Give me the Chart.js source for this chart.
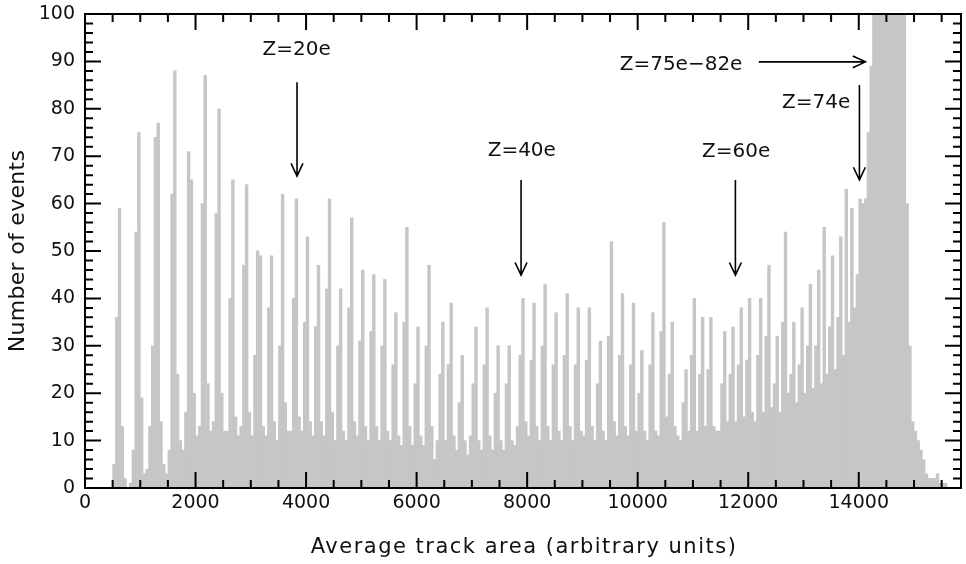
<!DOCTYPE html>
<html>
<head>
<meta charset="utf-8">
<script src="https://cdn.jsdelivr.net/npm/chart.js@4.4.1/dist/chart.umd.min.js"></script>
<style>
  html, body { margin: 0; padding: 0; background: #fff; }
</style>
</head>
<body>
<canvas id="histChart" width="966" height="564"></canvas>
<script>
// histogram: bins of 50 units starting at 0
const binWidth = 50;
const counts = [
  0, 0, 0, 0, 0, 0, 0, 0, 0, 0, 5, 36, 59, 13, 2, 0, 1, 8, 54, 75,
  19, 3, 4, 13, 30, 74, 77, 14, 5, 3, 8, 62, 88, 24, 10, 8, 16, 71, 65, 20,
  11, 13, 60, 87, 22, 12, 14, 58, 80, 20, 12, 12, 40, 65, 15, 11, 13, 47, 64, 16,
  11, 28, 50, 49, 13, 11, 38, 49, 14, 10, 30, 62, 18, 12, 12, 40, 61, 15, 12, 35,
  53, 14, 11, 34, 47, 14, 11, 42, 61, 16, 10, 30, 42, 12, 10, 38, 57, 14, 11, 31,
  46, 13, 10, 33, 45, 13, 10, 30, 44, 12, 10, 26, 37, 11, 9, 35, 55, 13, 9, 22,
  34, 11, 9, 30, 47, 13, 6, 10, 24, 35, 10, 26, 39, 11, 8, 18, 28, 10, 7, 11,
  22, 34, 10, 8, 26, 38, 11, 8, 20, 30, 10, 8, 22, 30, 10, 9, 13, 28, 40, 14,
  11, 27, 39, 13, 10, 30, 43, 13, 10, 26, 37, 12, 10, 28, 41, 13, 10, 26, 38, 12,
  11, 27, 38, 13, 10, 22, 31, 12, 10, 32, 52, 14, 11, 28, 41, 13, 11, 26, 39, 12,
  20, 29, 12, 10, 26, 37, 12, 11, 33, 56, 15, 24, 35, 13, 11, 10, 18, 25, 12, 28,
  40, 12, 24, 36, 13, 25, 36, 13, 12, 12, 22, 33, 14, 24, 34, 14, 26, 38, 15, 27,
  40, 16, 14, 28, 40, 16, 32, 47, 17, 22, 32, 16, 35, 54, 20, 24, 35, 18, 26, 38,
  20, 30, 43, 21, 30, 46, 22, 55, 24, 34, 49, 25, 36, 53, 28, 63, 35, 59, 38, 45,
  61, 60, 61, 75, 89, 110, 130, 150, 170, 185, 195, 190, 178, 160, 140, 118, 104, 60, 30, 14,
  12, 10, 8, 6, 3, 2, 2, 2, 3, 1, 1, 1, 0, 0, 0, 0, 0
];
const xTickLabels = [0, 2000, 4000, 6000, 8000, 10000, 12000, 14000];
const xMinorTicks = [500, 1000, 1500, 2500, 3000, 3500, 4500, 5000, 5500, 6500, 7000, 7500,
  8500, 9000, 9500, 10500, 11000, 11500, 12500, 13000, 13500, 14500, 15000, 15500];
const yTickLabels = [0, 10, 20, 30, 40, 50, 60, 70, 80, 90, 100];
const yMinorTicks = [2, 4, 6, 8, 12, 14, 16, 18, 22, 24, 26, 28, 32, 34, 36, 38, 42, 44, 46, 48,
  52, 54, 56, 58, 62, 64, 66, 68, 72, 74, 76, 78, 82, 84, 86, 88, 92, 94, 96, 98];

// labels with arrows, in data coordinates
const notes = [
  { text: 'Z=20e', at: [3830, 92.4], from: [3836, 85.6], to: [3836, 65.8] },
  { text: 'Z=40e', at: [7903, 71.1], from: [7890, 65], to: [7890, 44.9] },
  { text: 'Z=60e', at: [11781, 70.9], from: [11768, 65], to: [11768, 44.9] },
  { text: 'Z=74e', at: [13228, 81.2], from: [14012, 85], to: [14012, 65] },
  { text: 'Z=75e\u221282e', at: [10785, 89.2], from: [12191, 89.9], to: [14121, 89.9] }
];

const FONT = '"DejaVu Sans", sans-serif';

function drawArrow(ctx, x1, y1, x2, y2) {
  const ang = Math.atan2(y2 - y1, x2 - x1);
  const len = 14, spread = 0.44;
  ctx.beginPath();
  ctx.moveTo(x1, y1);
  ctx.lineTo(x2, y2);
  ctx.moveTo(x2 - len * Math.cos(ang - spread), y2 - len * Math.sin(ang - spread));
  ctx.lineTo(x2, y2);
  ctx.lineTo(x2 - len * Math.cos(ang + spread), y2 - len * Math.sin(ang + spread));
  ctx.stroke();
}

const framePlugin = {
  id: 'frame',
  afterDraw(chart) {
    const ctx = chart.ctx;
    const a = chart.chartArea;
    const xs = chart.scales.x;
    const ys = chart.scales.y;
    ctx.save();
    ctx.globalAlpha = 1;
    ctx.globalCompositeOperation = 'source-over';
    ctx.setLineDash([]);
    ctx.strokeStyle = '#000000';
    ctx.lineWidth = 2;

    ctx.beginPath();
    ctx.moveTo(a.left, a.top);
    ctx.lineTo(a.right, a.top);
    ctx.lineTo(a.right, a.bottom);
    ctx.lineTo(a.left, a.bottom);
    ctx.closePath();
    xTickLabels.forEach((v) => {
      const px = xs.getPixelForValue(v);
      ctx.moveTo(px, a.bottom); ctx.lineTo(px, a.bottom - 16);
      ctx.moveTo(px, a.top); ctx.lineTo(px, a.top + 16);
    });
    xMinorTicks.forEach((v) => {
      const px = xs.getPixelForValue(v);
      ctx.moveTo(px, a.bottom); ctx.lineTo(px, a.bottom - 8);
      ctx.moveTo(px, a.top); ctx.lineTo(px, a.top + 8);
    });
    yTickLabels.forEach((v) => {
      const py = ys.getPixelForValue(v);
      ctx.moveTo(a.left, py); ctx.lineTo(a.left + 16, py);
      ctx.moveTo(a.right, py); ctx.lineTo(a.right - 16, py);
    });
    yMinorTicks.forEach((v) => {
      const py = ys.getPixelForValue(v);
      ctx.moveTo(a.left, py); ctx.lineTo(a.left + 8, py);
      ctx.moveTo(a.right, py); ctx.lineTo(a.right - 8, py);
    });
    ctx.stroke();

    ctx.lineWidth = 1.6;
    ctx.fillStyle = '#111';
    ctx.font = '20px ' + FONT;
    ctx.textAlign = 'center';
    ctx.textBaseline = 'middle';
    notes.forEach((n) => {
      ctx.fillText(n.text, xs.getPixelForValue(n.at[0]), ys.getPixelForValue(n.at[1]));
      drawArrow(ctx,
        xs.getPixelForValue(n.from[0]), ys.getPixelForValue(n.from[1]),
        xs.getPixelForValue(n.to[0]), ys.getPixelForValue(n.to[1]));
    });

    ctx.font = '21px ' + FONT;
    ctx.letterSpacing = '1.5px';
    ctx.fillText('Average track area (arbitrary units)', (a.left + a.right) / 2 + 1, 548);
    ctx.font = '22px ' + FONT;
    ctx.letterSpacing = '0.3px';
    ctx.translate(18, 251);
    ctx.rotate(-Math.PI / 2);
    ctx.fillText('Number of events', 0, 0);
    ctx.restore();
  }
};

new Chart(document.getElementById('histChart'), {
  type: 'bar',
  data: {
    datasets: [{
      data: counts.map((c, i) => ({ x: binWidth * (i + 0.5), y: c })),
      backgroundColor: '#c6c6c6',
      borderWidth: 0,
      barPercentage: 1,
      categoryPercentage: 1
    }]
  },
  options: {
    responsive: false,
    animation: false,
    layout: { padding: { left: 0, top: 14, right: 5, bottom: 0 } },
    plugins: { legend: { display: false }, tooltip: { enabled: false } },
    scales: {
      x: {
        type: 'linear',
        min: 0,
        max: 15850,
        offset: false,
        grid: { display: false, drawTicks: false },
        border: { display: false },
        ticks: {
          color: '#111', font: { family: FONT, size: 19 }, padding: 4, maxRotation: 0, autoSkip: false,
          callback: (v) => String(v)
        },
        afterBuildTicks: (s) => { s.ticks = xTickLabels.map((v) => ({ value: v })); },
        afterFit: (s) => { s.height = 76; s.paddingLeft = 0; s.paddingRight = 0; }
      },
      y: {
        min: 0,
        max: 100,
        grid: { display: false, drawTicks: false },
        border: { display: false },
        ticks: { color: '#111', font: { family: FONT, size: 19 }, padding: 10 },
        afterBuildTicks: (s) => { s.ticks = yTickLabels.map((v) => ({ value: v })); },
        afterFit: (s) => { s.width = 85; s.paddingTop = 0; s.paddingBottom = 0; }
      }
    }
  },
  plugins: [framePlugin]
});
</script>
</body>
</html>
